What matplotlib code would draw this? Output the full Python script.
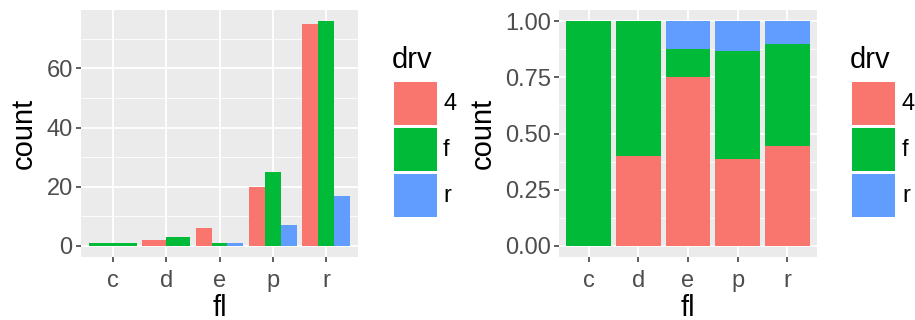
import numpy as np
import matplotlib
matplotlib.use("Agg")
import matplotlib.pyplot as plt
from matplotlib.patches import Rectangle

plt.rcParams['font.family'] = ['Liberation Sans', 'DejaVu Sans']

# mpg: counts of fl by drv
fl_levels = ['c', 'd', 'e', 'p', 'r']
drv_levels = ['4', 'f', 'r']
count_4 = [0, 2, 6, 20, 75]
count_f = [1, 3, 1, 25, 76]
count_r = [0, 0, 1, 7, 17]
drv_colors = ['#F8766D', '#00BA38', '#619CFF']

counts = np.array([count_4, count_f, count_r], dtype=float)

W, H = 915, 320
fig = plt.figure(figsize=(W / 100, H / 100), dpi=100)


def px_axes(x0, y0, x1, y1):
    return fig.add_axes([x0 / W, 1 - y1 / H, (x1 - x0) / W, (y1 - y0) / H])


def style_axes(ax, yticks, yticklabels, ymin, ymax, minor):
    ax.set_facecolor('#EBEBEB')
    for s in ax.spines.values():
        s.set_visible(False)
    ax.set_xlim(0.4, 5.6)
    ax.set_ylim(ymin, ymax)
    ax.set_xticks(range(1, 6))
    ax.set_xticklabels(fl_levels)
    ax.set_yticks(yticks)
    ax.set_yticklabels(yticklabels)
    ax.set_yticks(minor, minor=True)
    ax.tick_params(axis='both', which='major', length=3.5, width=1.1, color='#333333',
                   labelsize=17, labelcolor='#4D4D4D', pad=2.5)
    ax.tick_params(axis='x', which='major', pad=6)
    ax.tick_params(axis='y', which='minor', length=0)
    ax.grid(True, which='major', color='white', lw=1.3)
    ax.grid(True, which='minor', axis='y', color='white', lw=0.6)
    ax.set_axisbelow(True)
    ax.set_xlabel('fl', fontsize=21, labelpad=1)
    ax.set_ylabel('count', fontsize=21, labelpad=6)


def legend(x_key, x_lab):
    fig.text((x_key - 2) / W, 1 - 60 / H, 'drv', fontsize=21, va='center', ha='left')
    for i, (lab, col) in enumerate(zip(drv_levels, drv_colors)):
        top = 82 + i * 46
        fig.patches.append(Rectangle((x_key / W, 1 - (top + 43) / H), 43 / W, 43 / H,
                                     transform=fig.transFigure, facecolor=col,
                                     edgecolor='none'))
        fig.text(x_lab / W, 1 - (top + 22) / H, lab, fontsize=17, va='center', ha='left')


# left panel: dodged bars
ax1 = px_axes(81, 10, 358, 257)
x = np.arange(1, 6)
n_present = (counts > 0).sum(axis=0)
slot = np.zeros(5, dtype=int)
for k in range(3):
    for j in range(5):
        if counts[k, j] == 0:
            continue
        w = 0.9 / n_present[j]
        left = x[j] - 0.45 + slot[j] * w
        ax1.bar(left, counts[k, j], width=w, align='edge', color=drv_colors[k], lw=0)
        slot[j] += 1
style_axes(ax1, [0, 20, 40, 60], ['0', '20', '40', '60'], -3.8, 79.8, [10, 30, 50, 70])
legend(394, 443)

# right panel: filled bars
ax2 = px_axes(559, 10, 817, 257)
props = counts / counts.sum(axis=0)
bottom = np.zeros(5)
for k in range(3):
    ax2.bar(x, props[k], width=0.9, bottom=bottom, color=drv_colors[k], lw=0)
    bottom += props[k]
style_axes(ax2, [0, 0.25, 0.5, 0.75, 1.0], ['0.00', '0.25', '0.50', '0.75', '1.00'],
           -0.05, 1.05, [0.125, 0.375, 0.625, 0.875])
legend(852, 902)

fig.savefig('out.png', dpi=100)
